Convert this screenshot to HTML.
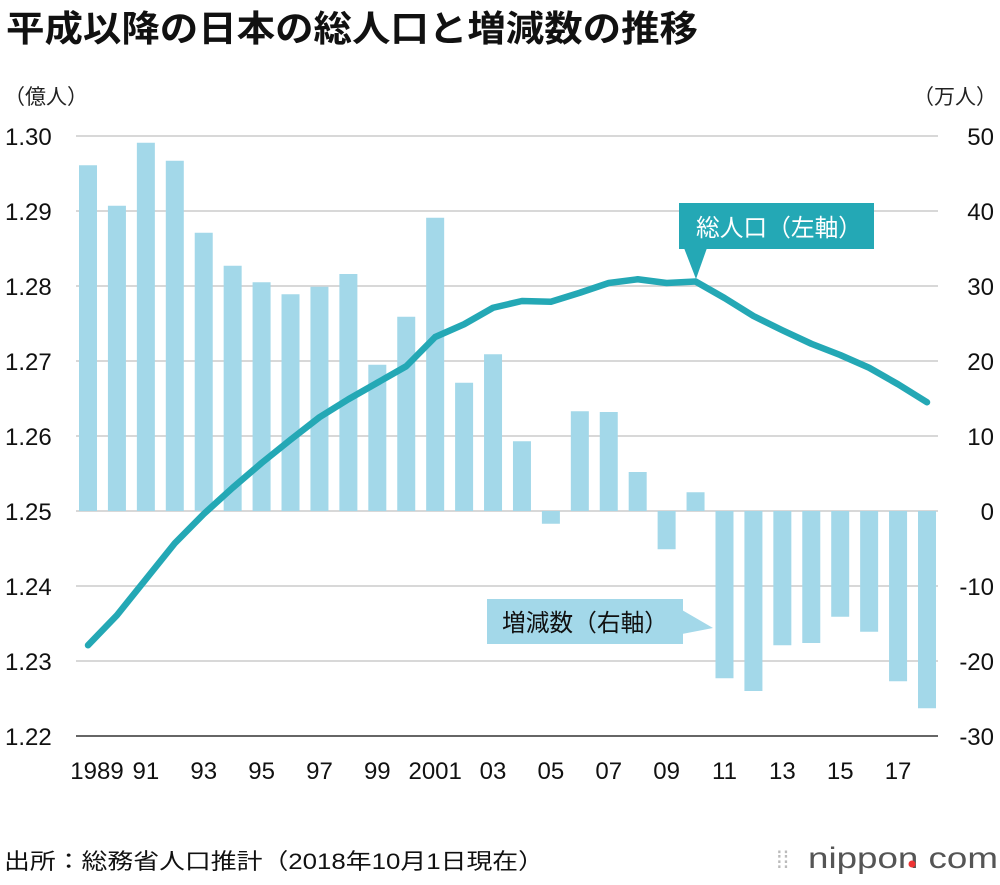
<!DOCTYPE html>
<html><head><meta charset="utf-8"><style>
body{margin:0;background:#fff;width:1000px;height:880px;overflow:hidden;font-family:"Liberation Sans","Noto Sans CJK JP",sans-serif}
svg text{font-family:"Liberation Sans","Noto Sans CJK JP",sans-serif}
</style></head><body>
<svg id="c" width="1000" height="880">
<text x="6" y="41" font-size="36" font-weight="bold" fill="#111" textLength="692" lengthAdjust="spacingAndGlyphs">平成以降の日本の総人口と増減数の推移</text>
<text x="4" y="104" font-size="21" fill="#222">（億人）</text>
<text x="997" y="104" font-size="21" fill="#222" text-anchor="end">（万人）</text>
<g id="grid"></g><g id="bars"></g><g id="line"></g><g id="ticks"></g>
<g>
<rect x="679" y="203" width="195" height="46" fill="#24a8b5"/>
<polygon points="684,248 707,248 696,279" fill="#24a8b5"/>
<text x="696" y="236" font-size="24" fill="#fff" textLength="166" lengthAdjust="spacingAndGlyphs">総人口（左軸）</text>
</g>
<g>
<rect x="487" y="599" width="196" height="45" fill="#a3d8e9"/>
<polygon points="682,610 682,634 713,628" fill="#a3d8e9"/>
<text x="502" y="631" font-size="24" fill="#111" textLength="166" lengthAdjust="spacingAndGlyphs">増減数（右軸）</text>
</g>
<text x="4" y="869" font-size="22" fill="#111" textLength="540" lengthAdjust="spacingAndGlyphs">出所：総務省人口推計（2018年10月1日現在）</text>
<g>
<text x="776" y="868" font-size="24" fill="#bbb">⁞⁞</text>
<text x="808" y="868" font-size="30" fill="#555" textLength="190" lengthAdjust="spacingAndGlyphs">nippon com</text>
<circle cx="912" cy="864" r="3.5" fill="#e33"/>
</g>
</svg>
<script>
const years=[1989,1990,1991,1992,1993,1994,1995,1996,1997,1998,1999,2000,2001,2002,2003,2004,2005,2006,2007,2008,2009,2010,2011,2012,2013,2014,2015,2016,2017,2018];
const changes=[46.1,40.7,49.1,46.7,37.1,32.7,30.5,28.9,29.9,31.6,19.5,25.9,39.1,17.1,20.9,9.3,-1.7,13.3,13.2,5.2,-5.1,2.5,-22.3,-24.0,-17.9,-17.6,-14.1,-16.1,-22.7,-26.3];
const population=[1.2321,1.2361,1.2409,1.2457,1.2496,1.2531,1.2564,1.2595,1.2625,1.2649,1.2671,1.2693,1.2732,1.2749,1.2771,1.2780,1.2779,1.2791,1.2804,1.2809,1.2804,1.2806,1.2784,1.2760,1.2741,1.2723,1.2708,1.2691,1.2669,1.2645];
const leftTicks=["1.22","1.23","1.24","1.25","1.26","1.27","1.28","1.29","1.30"];
const rightTicks=["-30","-20","-10","0","10","20","30","40","50"];
const xLabels=["1989","91","93","95","97","99","2001","03","05","07","09","11","13","15","17"];
const NS="http://www.w3.org/2000/svg";
const x=i=>88+i*(927-88)/29;
const yL=v=>736-(v-1.22)/0.08*600;
const yR=v=>511-v*7.5;
function mk(t,a,p){const e=document.createElementNS(NS,t);for(const k in a)e.setAttribute(k,a[k]);p.appendChild(e);return e;}
const grid=document.getElementById('grid'),ticks=document.getElementById('ticks');
leftTicks.forEach((t,i)=>{const y=yL(parseFloat(t));
const l=mk('line',{x1:76,x2:938,y1:y,y2:y,stroke:i==0?'#333':'#ccc','stroke-width':1.5},grid);


const tx=mk('text',{x:5,y:y+9,'font-size':24,fill:'#111'},ticks);tx.textContent=t;

});
rightTicks.forEach(t=>{const y=yR(parseFloat(t));
const tx=mk('text',{x:994,y:y+9,'font-size':24,fill:'#111','text-anchor':'end'},ticks);tx.textContent=t;

});
xLabels.forEach((t,i)=>{const tx=mk('text',{x:x(i*2)+(i==0?9:0),y:779,'font-size':24,fill:'#111','text-anchor':'middle'},ticks);tx.textContent=t;

});
const bars=document.getElementById('bars');
changes.forEach((v,i)=>{const y0=yR(0),y1=yR(v);
const r=mk('rect',{x:x(i)-9,y:Math.min(y0,y1),width:18,height:Math.abs(y1-y0),fill:'#a3d8e9'},bars);

});
const pl=mk('polyline',{points:population.map((v,i)=>x(i)+','+yL(v)).join(' '),fill:'none',stroke:'#24a8b5','stroke-width':6.5,'stroke-linejoin':'round','stroke-linecap':'round'},document.getElementById('line'));


</script>
</body></html>
